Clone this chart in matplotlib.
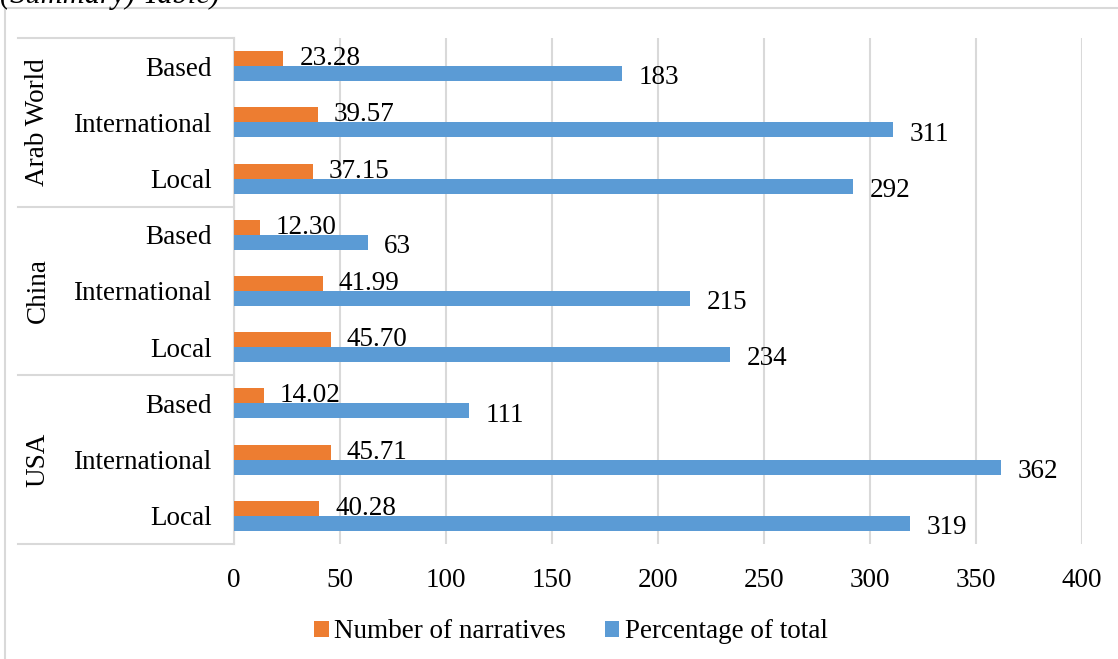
import matplotlib
matplotlib.use("Agg")
import matplotlib.pyplot as plt
import matplotlib.transforms as mtransforms
from matplotlib.patches import Patch
from matplotlib.lines import Line2D
import numpy as np

plt.rcParams['font.family'] = ['Liberation Serif', 'DejaVu Serif']

# Data (bottom to top)
groups = ["USA", "China", "Arab World"]
categories = ["Local", "International", "Based"]
narratives = [40.28, 45.71, 14.02, 45.70, 41.99, 12.30, 37.15, 39.57, 23.28]
narrative_labels = ["40.28", "45.71", "14.02", "45.70", "41.99", "12.30", "37.15", "39.57", "23.28"]
percentages = [319, 362, 111, 234, 215, 63, 292, 311, 183]
xticks = [0, 50, 100, 150, 200, 250, 300, 350, 400]

ORANGE = "#ED7D31"
BLUE = "#5B9BD5"
GRID = "#D9D9D9"
FS = 19.5

W, H = 1118, 659
fig = plt.figure(figsize=(W / 100, H / 100), dpi=100)
ax = fig.add_axes([234 / W, 1 - 544 / H, 848 / W, 506 / H])

n = len(narratives)
y = np.arange(n)
bh = 0.267
ax.barh(y + bh / 2, narratives, height=bh, color=ORANGE, zorder=3)
ax.barh(y - bh / 2, percentages, height=bh, color=BLUE, zorder=3)

for yi, v, lab in zip(y, narratives, narrative_labels):
    ax.annotate(lab, (v, yi + bh / 2), xytext=(11.5, 0), textcoords="offset points",
                ha="left", va="center", fontsize=FS)
for yi, v in zip(y, percentages):
    ax.annotate(str(v), (v, yi - bh / 2), xytext=(12, -3), textcoords="offset points",
                ha="left", va="center", fontsize=FS)

ax.set_xlim(0, 400)
ax.set_ylim(-0.5, n - 0.5)
ax.set_xticks(xticks)
ax.set_xticklabels([str(t) for t in xticks], fontsize=FS)
ax.set_yticks(y)
ax.set_yticklabels(categories * len(groups), fontsize=FS)
ax.tick_params(axis="y", length=0, pad=16)
ax.tick_params(axis="x", length=0, pad=17)
ax.xaxis.grid(True, color=GRID, linewidth=1.5, zorder=0)
ax.set_axisbelow(True)
for s in ["top", "right", "bottom"]:
    ax.spines[s].set_visible(False)
ax.spines["left"].set_color(GRID)
ax.spines["left"].set_linewidth(1.5)

# Multi-level category axis: separators and group labels
trans = mtransforms.blended_transform_factory(ax.transAxes, ax.transData)
x_left = (18 - 234) / 848
for yb in [-0.5, 2.5, 5.5, 8.5]:
    ax.add_line(Line2D([x_left, 0], [yb, yb], transform=trans, color=GRID,
                       linewidth=1.5, clip_on=False))
x_grp = (38 - 234) / 848
for gi, g in enumerate(groups):
    ax.text(x_grp, gi * 3 + 1, g, transform=trans, rotation=90, ha="center",
            va="center", fontsize=FS)

# Legend
handles = [Patch(facecolor=ORANGE, label="Number of narratives"),
           Patch(facecolor=BLUE, label="Percentage of total")]
fig.legend(handles=handles, loc="center", bbox_to_anchor=(571 / W, 1 - 632 / H),
           ncol=2, frameon=False, fontsize=FS, handlelength=0.52, handleheight=0.52,
           handletextpad=0.2, columnspacing=1.45)

# Outer chart frame (top and left edges)
fig.add_artist(Line2D([5 / W, 1], [1 - 7.5 / H, 1 - 7.5 / H], transform=fig.transFigure,
                      color=GRID, linewidth=1.5))
fig.add_artist(Line2D([5 / W, 5 / W], [0, 1 - 7.5 / H], transform=fig.transFigure,
                      color=GRID, linewidth=1.5))

# Caption above the chart frame
fig.text(0, 1 - 3 / H, "(Summary) Table)", ha="left", va="baseline",
         fontsize=22, style="italic")

fig.savefig("out.png", dpi=100)
